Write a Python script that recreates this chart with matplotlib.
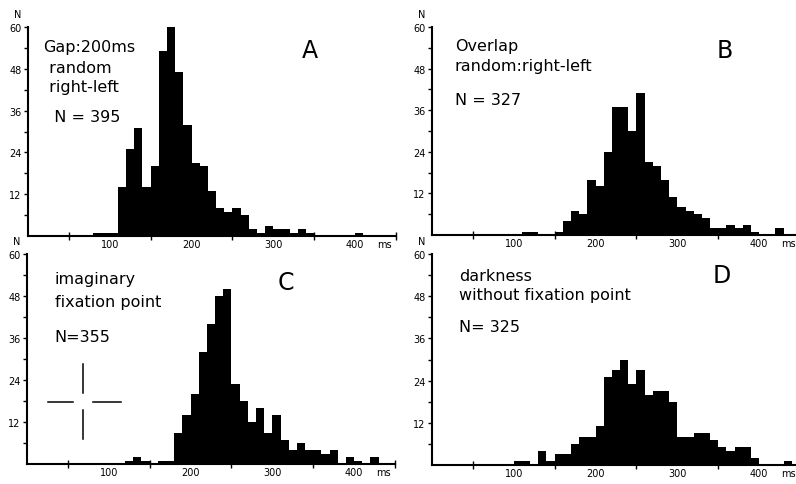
import numpy as np
import matplotlib

matplotlib.use('Agg')

import matplotlib.pyplot as plt


# histogram counts per 10 ms bin, starting at the given latency (ms)
a_start = 80
a_counts = [1, 1, 1, 14, 25, 31, 14, 20, 53, 60, 47, 32, 21, 20, 13, 8, 7, 8, 6, 2,
            1, 3, 2, 2, 1, 2, 1, 0, 0, 0, 0, 0, 1]

b_start = 110
b_counts = [1, 1, 0, 0, 1, 4, 7, 6, 16, 14, 24, 37, 37, 30, 41, 21, 20, 16, 11, 8,
            7, 6, 5, 2, 2, 3, 2, 3, 1, 0, 0, 2]

c_start = 120
c_counts = [1, 2, 1, 0, 1, 1, 9, 14, 20, 32, 40, 48, 50, 23, 18, 12, 16, 9, 14, 7,
            4, 6, 4, 4, 3, 4, 0, 2, 1, 0, 2]

d_start = 100
d_counts = [1, 1, 0, 4, 1, 3, 3, 6, 8, 8, 11, 25, 27, 30, 23, 27, 20, 21, 21, 18,
            8, 8, 9, 9, 7, 5, 4, 5, 5, 2, 0, 0, 0, 1]

letters = ['A', 'B', 'C', 'D']
notes = [
    ['Gap:200ms', ' random', ' right-left', '  N = 395'],
    ['Overlap', 'random:right-left', 'N = 327'],
    ['imaginary', 'fixation point', 'N=355'],
    ['darkness', 'without fixation point', 'N= 325'],
]
# y positions (in counts) of the note lines
note_y = [
    [54.3, 48.3, 42.8, 34.4],
    [54.6, 48.8, 39.0],
    [52.9, 46.3, 36.3],
    [53.9, 48.4, 39.4],
]
note_x = [19, 28, 34, 33]
letter_pos = [(345, 53.5), (358, 53.5), (316, 52), (354, 54)]

y_ticks = [12, 24, 36, 48, 60]
x_labels = ['100', '200', '300', '400', 'ms']
x_label_pos = [100, 200, 300, 400, 436]

# figure layout (pixels): left spine, bottom, width, height
W, H = 796, 485
boxes = [(28, 237, 368, 209), (432, 236, 368, 208),
         (27, 465, 368, 210), (432, 466, 368, 211)]

fig = plt.figure(figsize=(W / 100, H / 100), dpi=100)

data = [(a_start, a_counts), (b_start, b_counts), (c_start, c_counts), (d_start, d_counts)]

for i, (start, counts) in enumerate(data):
    x0, yb, w, h = boxes[i]
    ax = fig.add_axes([x0 / W, (H - yb) / H, w / W, h / H])

    edges = start + 10 * np.arange(len(counts))
    ax.bar(edges, counts, width=10, align='edge', color='black', linewidth=0)

    ax.set_xlim(0, 450)
    ax.set_ylim(0, 60)
    for s in ['top', 'right']:
        ax.spines[s].set_visible(False)
    for s in ['left', 'bottom']:
        ax.spines[s].set_linewidth(1.5)

    # y ticks: labelled every 12, minor in between
    ax.set_yticks(y_ticks)
    ax.set_yticks([6, 18, 30, 42, 54], minor=True)
    ax.tick_params(axis='y', which='both', direction='out', length=3, width=1, pad=1.5,
                   labelsize=7)

    # x: labels at hundreds without ticks, tick marks at 50, 150, ...
    ax.set_xticks(x_label_pos)
    ax.set_xticklabels(x_labels)
    ax.set_xticks([50, 150, 250, 350, 450], minor=True)
    ax.tick_params(axis='x', which='major', length=0, pad=2, labelsize=7)
    ax.tick_params(axis='x', which='minor', direction='inout', length=6, width=1)

    ax.text(-13, 63.7, 'N', fontsize=7, ha='center', va='center', clip_on=False)

    lx, ly = letter_pos[i]
    ax.text(lx, ly, letters[i], fontsize=17, ha='center', va='center')

    for txt, ty in zip(notes[i], note_y[i]):
        ax.text(note_x[i], ty, txt, fontsize=11.5, ha='left', va='center')

    if i == 2:
        # fixation cross drawing
        ax.plot([68.3, 68.3], [28.6, 20.3], color='black', lw=1.1)
        ax.plot([68.3, 68.3], [15.4, 7.1], color='black', lw=1.1)
        ax.plot([25.6, 56], [17.7, 17.7], color='black', lw=1.1)
        ax.plot([80.5, 114.6], [17.7, 17.7], color='black', lw=1.1)

plt.savefig('out.png', dpi=100)
